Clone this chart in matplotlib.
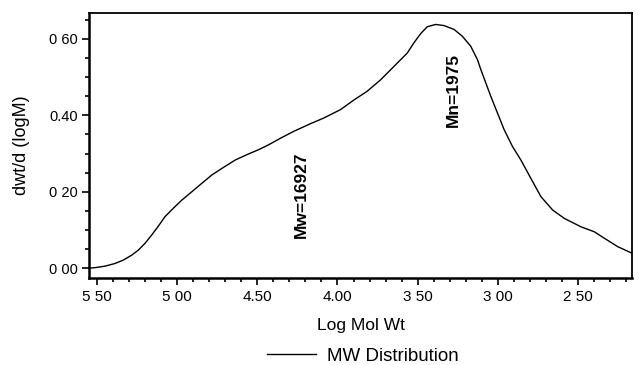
import numpy as np
import matplotlib.pyplot as plt
from matplotlib.ticker import MultipleLocator, FixedLocator

plt.rcParams['font.family'] = ['Liberation Sans', 'DejaVu Sans']

# MW distribution curve
log_mw = [5.575, 5.5125, 5.45, 5.3875, 5.335, 5.283, 5.242, 5.20, 5.158, 5.117,
          5.075, 5.023, 4.971, 4.908, 4.846, 4.783, 4.710, 4.6375, 4.565,
          4.492, 4.429, 4.377, 4.356, 4.273, 4.169, 4.085, 3.981, 3.898,
          3.815, 3.731, 3.648, 3.565, 3.523, 3.481, 3.440, 3.3875, 3.335,
          3.273, 3.221, 3.169, 3.127, 3.106, 3.075, 3.044, 3.002, 2.960,
          2.908, 2.856, 2.794, 2.731, 2.658, 2.585, 2.481, 2.398, 2.335,
          2.252, 2.158]
dwt = [-0.001, 0.001, 0.005, 0.012, 0.021, 0.034, 0.047, 0.065, 0.087, 0.110,
       0.135, 0.157, 0.178, 0.200, 0.222, 0.244, 0.264, 0.283, 0.297,
       0.310, 0.323, 0.335, 0.340, 0.358, 0.378, 0.393, 0.415, 0.440,
       0.463, 0.493, 0.528, 0.563, 0.590, 0.614, 0.632, 0.638, 0.635,
       0.625, 0.607, 0.581, 0.546, 0.520, 0.485, 0.450, 0.406, 0.362,
       0.318, 0.283, 0.235, 0.187, 0.152, 0.130, 0.108, 0.095, 0.078,
       0.056, 0.038]

x_ticks = [5.5, 5.0, 4.5, 4.0, 3.5, 3.0, 2.5]
x_labels = ['5 50', '5 00', '4.50', '4.00', '3 50', '3 00', '2 50']
y_ticks = [0.0, 0.2, 0.4, 0.6]
y_labels = ['0 00', '0 20', '0.40', '0 60']

fig = plt.figure(figsize=(6.43, 3.65), dpi=100)
ax = fig.add_axes([0.1384, 0.2384, 0.8446, 0.726])

ax.plot(log_mw, dwt, color='black', lw=1.0, label='MW Distribution')

ax.set_xlim(5.55, 2.1625)
ax.set_ylim(-0.026, 0.668)

ax.xaxis.set_major_locator(FixedLocator(x_ticks))
ax.set_xticklabels(x_labels)
ax.xaxis.set_minor_locator(MultipleLocator(0.1))
ax.yaxis.set_major_locator(FixedLocator(y_ticks))
ax.set_yticklabels(y_labels)
ax.yaxis.set_minor_locator(MultipleLocator(0.05))

ax.tick_params(which='both', direction='out', top=False, right=False,
               width=1.2)
ax.tick_params(axis='x', labelsize=11, pad=4)
ax.tick_params(axis='y', labelsize=10.5, pad=3)
ax.tick_params(which='major', length=5)
ax.tick_params(which='minor', length=3)

for side in ['left', 'bottom']:
    ax.spines[side].set_linewidth(1.8)
for side in ['top', 'right']:
    ax.spines[side].set_linewidth(1.3)

ax.set_xlabel('Log Mol Wt', fontsize=12.5, labelpad=10)
ax.set_ylabel('dwt/d (logM)', fontsize=13, labelpad=14)

ax.text(4.225, 0.192, 'Mw=16927', rotation=90, fontsize=12.5, fontweight='bold',
        ha='center', va='center')
ax.text(3.28, 0.467, 'Mn=1975', rotation=90, fontsize=12.5, fontweight='bold',
        ha='center', va='center')

fig.legend(loc='lower center', bbox_to_anchor=(0.565, -0.045), frameon=False,
           fontsize=13.5, handlelength=2.6, handletextpad=0.6)

fig.savefig('out.png', dpi=100)
